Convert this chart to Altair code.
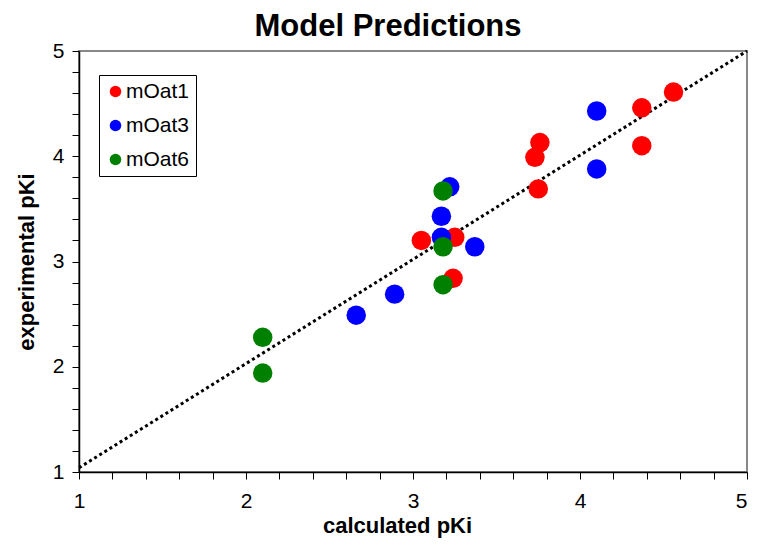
import altair as alt
import pandas as pd

# Data
series_names = ["mOat1", "mOat3", "mOat6"]
series_colors = ["#ff0000", "#0000ff", "#008000"]

moat1_calc = [3.05, 3.25, 3.24, 3.76, 3.73, 3.75, 4.37, 4.37, 4.56]
moat1_exp = [3.20, 3.23, 2.84, 4.13, 3.99, 3.69, 4.46, 4.10, 4.61]

moat3_calc = [4.10, 4.10, 3.22, 3.17, 3.17, 3.37, 2.89, 2.66]
moat3_exp = [4.43, 3.88, 3.71, 3.43, 3.23, 3.14, 2.69, 2.49]

moat6_calc = [3.18, 3.18, 3.18, 2.10, 2.10]
moat6_exp = [3.67, 3.14, 2.78, 2.28, 1.94]

line_x = [1.0, 5.0]
line_y = [1.04, 5.0]

tick_values = [1.0, 1.2, 1.4, 1.6, 1.8, 2.0, 2.2, 2.4, 2.6, 2.8, 3.0,
               3.2, 3.4, 3.6, 3.8, 4.0, 4.2, 4.4, 4.6, 4.8, 5.0]

rows = []
for name, xs, ys in [("mOat1", moat1_calc, moat1_exp),
                     ("mOat3", moat3_calc, moat3_exp),
                     ("mOat6", moat6_calc, moat6_exp)]:
    for a, b in zip(xs, ys):
        rows.append({"series": name, "calc": a, "exp": b})
points_df = pd.DataFrame(rows)
line_df = pd.DataFrame({"calc": line_x, "exp": line_y})

FONT = "Liberation Sans"
label_expr = "abs(datum.value - round(datum.value)) < 0.001 ? format(datum.value, 'd') : ''"

x_scale = alt.Scale(domain=[1, 5], nice=False, zero=False)
y_scale = alt.Scale(domain=[1, 5], nice=False, zero=False)

common = dict(values=tick_values, labelExpr=label_expr, grid=False, tickSize=7,
              tickColor="black", tickWidth=1, domainColor="black", domainWidth=1.5,
              labelFont=FONT, labelFontSize=21, labelColor="black",
              labelFlush=False, labelOverlap=False,
              titleFont=FONT, titleFontSize=22, titleFontWeight="bold", titleColor="black")

x_axis = alt.Axis(title="calculated pKi", labelPadding=11, labelBaseline="top",
                  labelAlign={"condition": {"test": "datum.value == 5", "value": "right"},
                              "value": "center"},
                  titleX=318, titleY=60, titleBaseline="alphabetic", titleAnchor="middle",
                  **common)
y_axis = alt.Axis(title="experimental pKi", labelPadding=8, titlePadding=14, **common)

line = alt.Chart(line_df).mark_line(color="black", strokeWidth=3, strokeDash=[3, 3]).encode(
    x=alt.X("calc:Q", scale=x_scale, axis=x_axis),
    y=alt.Y("exp:Q", scale=y_scale, axis=y_axis),
)

pts = alt.Chart(points_df).mark_circle(size=380, opacity=1).encode(
    x=alt.X("calc:Q", scale=x_scale, axis=x_axis),
    y=alt.Y("exp:Q", scale=y_scale, axis=y_axis),
    color=alt.Color("series:N",
                    scale=alt.Scale(domain=series_names, range=series_colors),
                    legend=alt.Legend(title=None, orient="none", legendX=20, legendY=24,
                                      strokeColor="black", fillColor="white", padding=6,
                                      labelFontSize=21, symbolSize=133, symbolType="circle",
                                      rowPadding=12, labelOffset=0, symbolStrokeWidth=0,
                                      labelFont=FONT, labelColor="black")),
    order=alt.Order("order_idx:Q"),
).transform_calculate(
    order_idx="datum.series == 'mOat1' ? 0 : (datum.series == 'mOat3' ? 1 : 2)"
)

chart = alt.layer(line, pts).properties(
    width=668,
    height=421,
    autosize=alt.AutoSizeParams(type="none"),
    padding={"left": 71, "top": 43, "right": 2, "bottom": 68},
    background="white",
    title=alt.Title("Model Predictions", fontSize=31, font=FONT, fontWeight="bold",
                    color="black", anchor="middle", dx=-25, offset=-3),
).configure_view(
    stroke="#888888", strokeWidth=2
)

chart.save("out.html", embed_options={"renderer": "svg", "actions": False})
